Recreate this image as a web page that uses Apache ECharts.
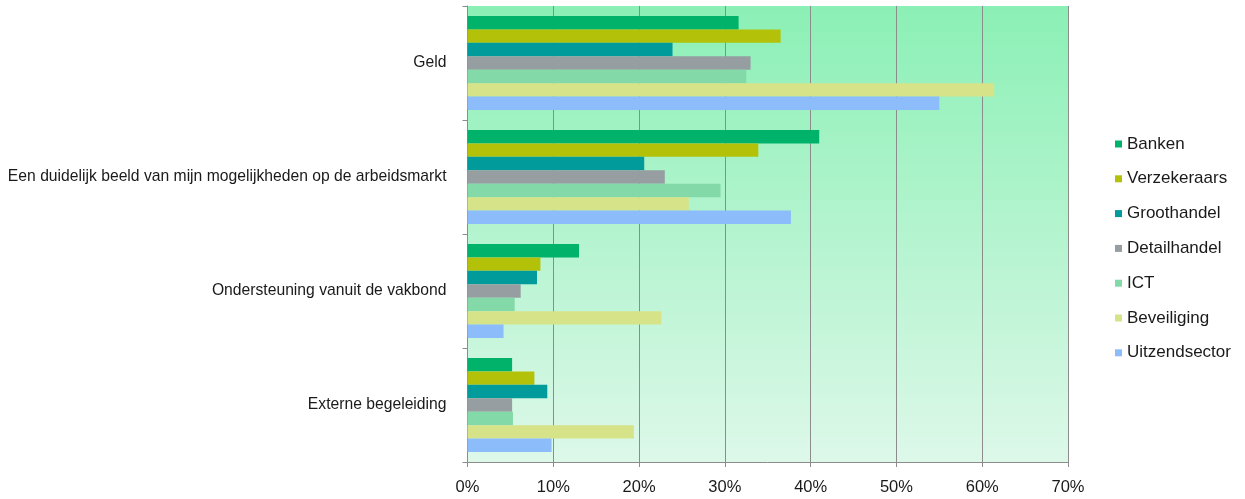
<!DOCTYPE html>
<html>
<head>
<meta charset="utf-8">
<script src="https://cdn.jsdelivr.net/npm/echarts@6/dist/echarts.min.js"></script>
<style>
  html, body { margin: 0; padding: 0; background: #ffffff; }
  #chart { width: 1245px; height: 499px; }
</style>
</head>
<body>
<div id="chart"></div>
<script>
// Redenen (top to bottom)
const categories = [
  'Geld',
  'Een duidelijk beeld van mijn mogelijkheden op de arbeidsmarkt',
  'Ondersteuning vanuit de vakbond',
  'Externe begeleiding'
];

// Percentages per sector, in the same order as the categories
const banken        = [31.6, 41.0, 13.0, 5.2];
const verzekeraars  = [36.5, 33.9,  8.5, 7.8];
const groothandel   = [23.9, 20.6,  8.1, 9.3];
const detailhandel  = [33.0, 23.0,  6.2, 5.2];
const ict           = [32.5, 29.5,  5.5, 5.3];
const beveiliging   = [61.4, 25.8, 22.6, 19.4];
const uitzendsector = [55.0, 37.7,  4.2, 9.8];

const xTicks = [0, 10, 20, 30, 40, 50, 60, 70];

const seriesDefs = [
  { name: 'Banken',        data: banken,        color: '#00B26A' },
  { name: 'Verzekeraars',  data: verzekeraars,  color: '#B3C208' },
  { name: 'Groothandel',   data: groothandel,   color: '#009B9A' },
  { name: 'Detailhandel',  data: detailhandel,  color: '#969EA2' },
  { name: 'ICT',           data: ict,           color: '#84D9A8' },
  { name: 'Beveiliging',   data: beveiliging,   color: '#D6E388' },
  { name: 'Uitzendsector', data: uitzendsector, color: '#8CBCFA' }
];

const chart = echarts.init(document.getElementById('chart'), null, { renderer: 'canvas' });

const font = '"Liberation Sans", Arial, sans-serif';

chart.setOption({
  animation: false,
  textStyle: { fontFamily: font },
  grid: {
    left: 467.5,
    top: 6,
    width: 600.5,
    height: 456,
    show: true,
    borderWidth: 0,
    containLabel: false,
    outerBoundsMode: 'none',
    backgroundColor: new echarts.graphic.LinearGradient(0, 0, 0, 1, [
      { offset: 0, color: '#8BF0B5' },
      { offset: 1, color: '#DDF8E9' }
    ])
  },
  legend: {
    orient: 'vertical',
    left: 1115,
    top: 134,
    padding: 0,
    itemWidth: 7,
    itemHeight: 7,
    itemGap: 14.8,
    icon: 'rect',
    textStyle: { fontSize: 17, lineHeight: 20, color: '#1a1a1a', fontFamily: font },
    data: seriesDefs.map(s => s.name)
  },
  xAxis: {
    type: 'value',
    min: xTicks[0],
    max: xTicks[xTicks.length - 1],
    interval: 10,
    axisLine: { show: true, lineStyle: { color: '#8c8c8c', width: 1 } },
    axisTick: { show: true, length: 5, lineStyle: { color: '#8c8c8c' } },
    splitLine: { show: true, lineStyle: { color: '#8c8c8c', width: 1 } },
    axisLabel: {
      formatter: v => v + '%',
      fontSize: 16.5,
      color: '#1a1a1a',
      margin: 17,
      fontFamily: font
    }
  },
  yAxis: {
    type: 'category',
    inverse: true,
    data: categories,
    axisLine: { show: true, lineStyle: { color: '#8c8c8c', width: 1 } },
    axisTick: { show: true, length: 5, lineStyle: { color: '#8c8c8c' } },
    axisLabel: { fontSize: 15.7, color: '#1a1a1a', margin: 21, fontFamily: font },
    splitLine: { show: false }
  },
  series: seriesDefs.map(s => ({
    name: s.name,
    type: 'bar',
    data: s.data,
    barGap: '0%',
    barCategoryGap: '17.5%',
    itemStyle: { color: s.color },
    emphasis: { disabled: true }
  }))
});
</script>
</body>
</html>
